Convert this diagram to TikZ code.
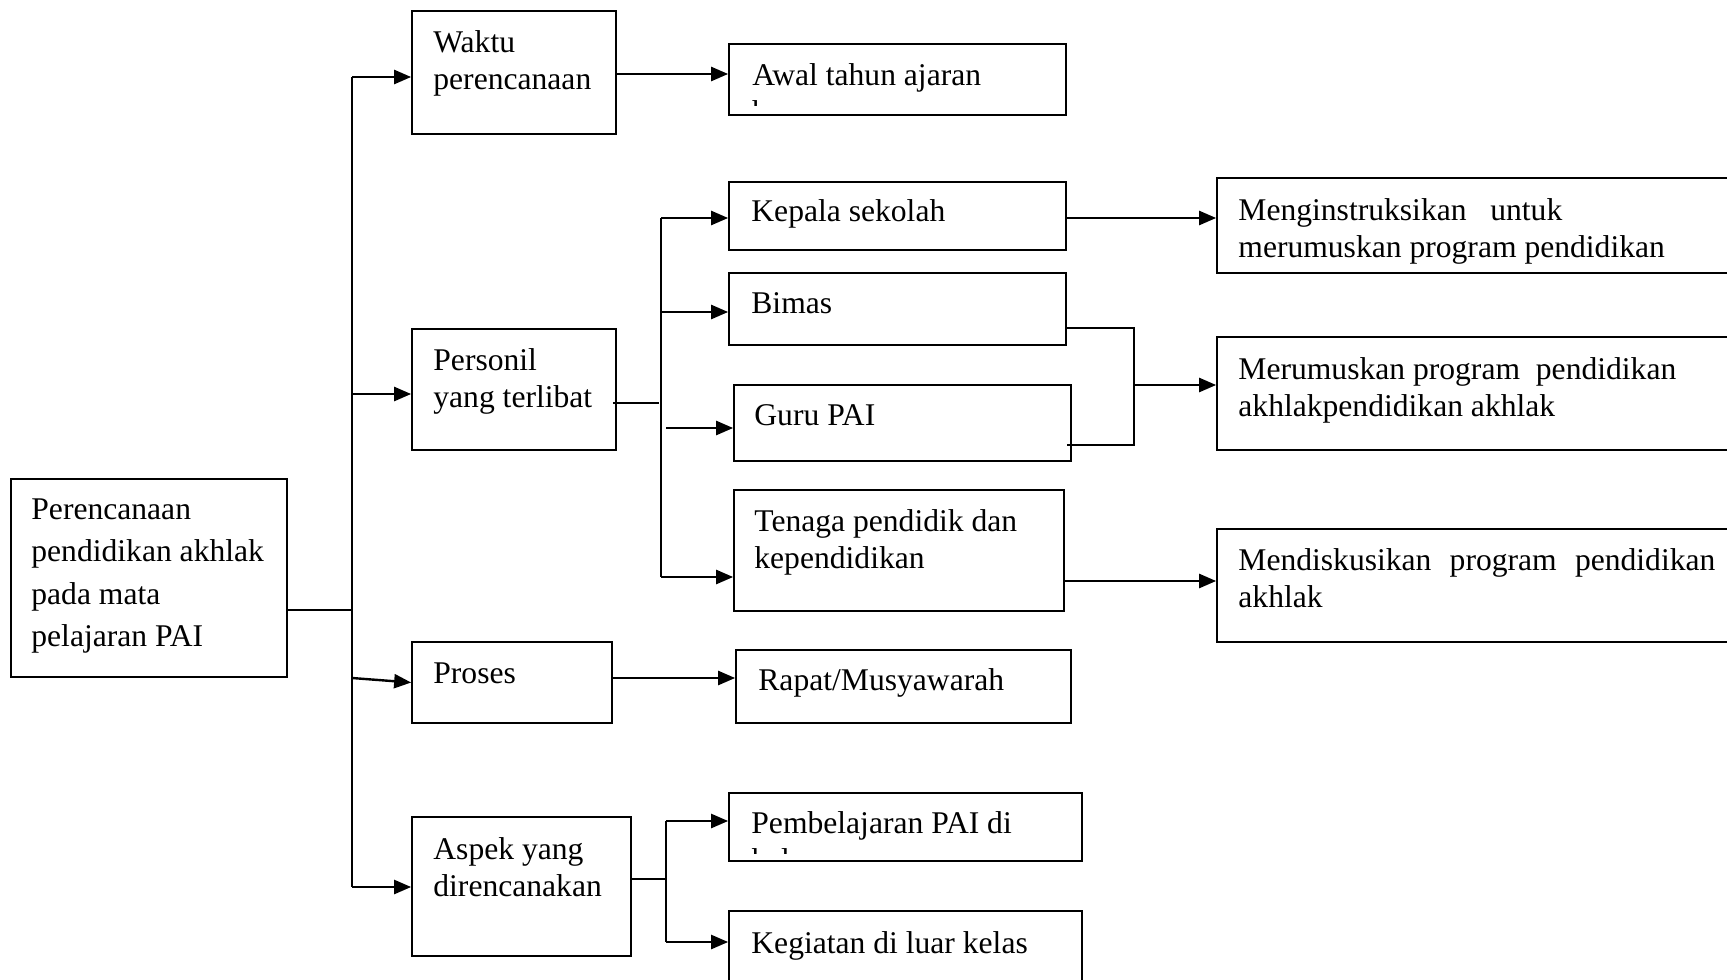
\documentclass[tikz,border=0pt]{standalone}
\usepackage{fontspec}
\setmainfont{Liberation Serif}
\usetikzlibrary{arrows.meta,fit,calc}
\begin{document}
\begin{tikzpicture}[x=0.5pt,y=-0.5pt,
  box/.style={draw, line width=0.85pt, inner sep=0pt},
  txt/.style={anchor=north west, inner sep=0pt, align=left,
              font=\fontsize{15.8pt}{18.5pt}\selectfont},
  line/.style={line width=0.85pt},
  arr/.style={line width=1.2pt, -{Triangle[length=8.5pt,width=7pt]}}]
\useasboundingbox (0,0) rectangle (1727,979);
\clip (0,0) rectangle (1727,979);

% boxes
\node[box, fit={(11,479) (287,677)}]    (main)     {};
\node[box, fit={(412,11) (616,134)}]    (waktu)    {};
\node[box, fit={(729,44) (1066,115)}]   (awal)     {};
\node[box, fit={(412,329) (616,450)}]   (personil) {};
\node[box, fit={(729,182) (1066,250)}]  (kepala)   {};
\node[box, fit={(729,273) (1066,345)}]  (bimas)    {};
\node[box, fit={(734,385) (1071,461)}]  (guru)     {};
\node[box, fit={(734,490) (1064,611)}]  (tenaga)   {};
\node[box, fit={(1217,178) (1760,273)}] (instr)    {};
\node[box, fit={(1217,337) (1760,450)}] (merum)    {};
\node[box, fit={(1217,529) (1760,642)}] (mendis)   {};
\node[box, fit={(412,642) (612,723)}]   (proses)   {};
\node[box, fit={(736,650) (1071,723)}]  (rapat)    {};
\node[box, fit={(412,817) (631,956)}]   (aspek)    {};
\node[box, fit={(729,793) (1082,861)}]  (pembel)   {};
\node[box, fit={(729,911) (1082,1000)}] (kegiat)   {};

% texts
\node[txt, font=\fontsize{15.8pt}{21.3pt}\selectfont] (main-t) at (31,498)
  {Perencanaan\\pendidikan akhlak\\pada mata\\pelajaran PAI};
\node[txt] (waktu-t) at (433,30) {Waktu\\perencanaan};
\begin{scope}
  \clip (729,44) rectangle (1066,106);
  \node[txt] (awal-t) at (752,63) {Awal tahun ajaran\\baru};
\end{scope}
\node[txt] (personil-t) at (433,348) {Personil\\yang terlibat};
\node[txt] (kepala-t) at (751,199) {Kepala sekolah};
\node[txt] (bimas-t) at (751,292) {Bimas};
\node[txt] (guru-t) at (754,404) {Guru PAI};
\node[txt] (tenaga-t) at (754,509) {Tenaga pendidik dan\\kependidikan};
\node[txt] (instr-t) at (1238,198) {Menginstruksikan\ \ \ untuk\\merumuskan program pendidikan};
\node[txt] (merum-t) at (1238,357) {Merumuskan program\ \ pendidikan\\akhlakpendidikan akhlak};
\node[txt] (mendis-t) at (1238,548) {\makebox[238.5pt][s]{Mendiskusikan program pendidikan}\\akhlak};
\node[txt] (proses-t) at (433,662) {Proses};
\node[txt] (rapat-t) at (758,668) {Rapat/Musyawarah};
\node[txt] (aspek-t) at (433,837) {Aspek yang\\direncanakan};
\begin{scope}
  \clip (729,793) rectangle (1082,853);
  \node[txt] (pembel-t) at (751,811) {Pembelajaran PAI di\\kelas};
\end{scope}
\node[txt] (kegiat-t) at (751,931) {Kegiatan di luar kelas};

% junction points
\coordinate (t1top) at (352,77);
\coordinate (t1mid) at (352,610);
\coordinate (t1p)   at (352,394);
\coordinate (t1r)   at (352,678);
\coordinate (t1bot) at (352,887);
\coordinate (t2mid) at (659,403);
\coordinate (t2top) at (661,218);
\coordinate (t2b)   at (661,312);
\coordinate (t2bot) at (661,577);
\coordinate (g0)    at (666,428);
\coordinate (mjt)   at (1134,328);
\coordinate (mj)    at (1134,385);
\coordinate (mjb)   at (1134,445);
\coordinate (t3top) at (666,821);
\coordinate (t3mid) at (666,879);
\coordinate (t3bot) at (666,942);

% main branch
\draw[line] (main.east |- t1mid) -- (t1mid);
\draw[line] (t1top) -- (t1bot);
\draw[arr] (t1top) -- (waktu.west |- t1top);
\draw[arr] (t1p) -- (personil.west |- t1p);
\draw[arr] (t1r) -- (proses.west);
\draw[arr] (t1bot) -- (aspek.west |- t1bot);

% Waktu perencanaan
\draw[arr] (waktu.east |- 0,74) -- (awal.west |- 0,74);

% Personil yang terlibat
\draw[line] ([xshift=-2pt]personil.east |- t2mid) -- (t2mid);
\draw[line] (t2top) -- (t2bot);
\draw[arr] (t2top) -- (kepala.west |- t2top);
\draw[arr] (t2b) -- (bimas.west |- t2b);
\draw[arr] (g0) -- (guru.west |- g0);
\draw[arr] (t2bot) -- (tenaga.west |- t2bot);

\draw[arr] (kepala.east |- t2top) -- (instr.west |- t2top);
\draw[line] (bimas.east |- mjt) -- (mjt) -- (mjb) -- ([xshift=-2.5pt]guru.east |- mjb);
\draw[arr] (mj) -- (merum.west |- mj);
\draw[arr] (tenaga.east |- 0,581) -- (mendis.west |- 0,581);

% Proses
\draw[arr] (proses.east |- 0,678) -- (rapat.west |- 0,678);

% Aspek yang direncanakan
\draw[line] (aspek.east |- t3mid) -- (t3mid);
\draw[line] (t3top) -- (t3bot);
\draw[arr] (t3top) -- (pembel.west |- t3top);
\draw[arr] (t3bot) -- (kegiat.west |- t3bot);
\end{tikzpicture}
\end{document}
